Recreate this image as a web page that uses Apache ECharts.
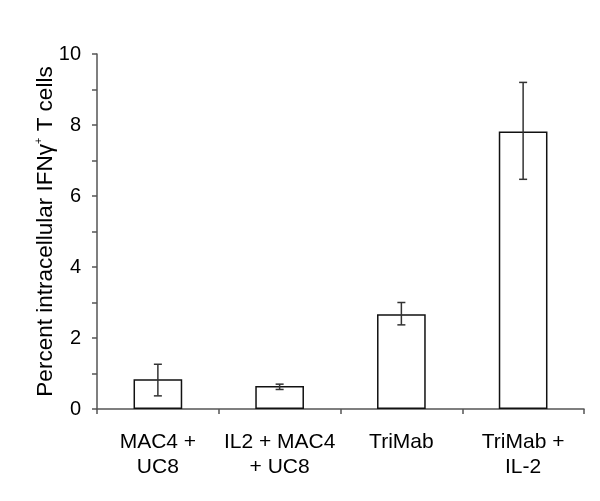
<!DOCTYPE html>
<html><head><meta charset="utf-8">
<script src="https://cdn.jsdelivr.net/npm/echarts@6/dist/echarts.min.js"></script>
<style>html,body{margin:0;padding:0;background:#fff}#c{width:600px;height:501px}</style>
</head><body><div id="c"></div>
<script>
var categories = ['MAC4 +\nUC8', 'IL2 + MAC4\n+ UC8', 'TriMab', 'TriMab +\nIL-2'];
var means = [0.84, 0.65, 2.67, 7.82];
var errLow = [0.37, 0.55, 2.37, 6.47];
var errHigh = [1.26, 0.70, 3.00, 9.20];
var yTicks = [0, 2, 4, 6, 8, 10];

var errData = categories.map(function (c, i) { return [i, errLow[i], errHigh[i]]; });
var font = 'Liberation Sans, Arial, sans-serif';
var chart = echarts.init(document.getElementById('c'));
chart.setOption({
  animation: false,
  grid: { left: 97, right: 16, top: 54, bottom: 92 },
  xAxis: {
    type: 'category', data: categories, boundaryGap: true,
    axisLine: { lineStyle: { color: '#555', width: 1.5 } },
    axisTick: { show: true, length: 5, lineStyle: { color: '#555', width: 1.5 } },
    axisLabel: { color: '#000', fontSize: 21, fontFamily: font, margin: 21, lineHeight: 25, interval: 0 }
  },
  yAxis: {
    type: 'value', min: 0, max: 10, interval: 1,
    splitLine: { show: false },
    axisLine: { show: true, lineStyle: { color: '#555', width: 1.5 } },
    axisTick: { show: true, length: 5, lineStyle: { color: '#555', width: 1.5 } },
    axisLabel: {
      color: '#000', fontSize: 20, fontFamily: font, margin: 16,
      formatter: function (v) { return yTicks.indexOf(v) >= 0 ? String(v) : ''; }
    },
    name: '{a|Percent intracellular IFNγ}{s|+}{a| T cells}',
    nameLocation: 'middle', nameGap: 39, nameRotate: 90, nameMoveOverlap: false,
    nameTextStyle: {
      color: '#000', fontFamily: font,
      rich: {
        a: { fontSize: 22.5, fontFamily: font, color: '#000' },
        s: { fontSize: 11, fontFamily: font, color: '#000', verticalAlign: 'top', padding: [0, 0, 14, 0] }
      }
    }
  },
  series: [
    {
      type: 'bar', data: means, barWidth: '40%',
      itemStyle: { color: '#fff', borderColor: '#111', borderWidth: 1.5 }
    },
    {
      type: 'custom', data: errData, z: 5,
      renderItem: function (params, api) {
        var x = api.value(0);
        var lo = api.coord([x, api.value(1)]);
        var hi = api.coord([x, api.value(2)]);
        var hw = 4;
        var st = { stroke: '#333', lineWidth: 1.5 };
        return { type: 'group', children: [
          { type: 'line', shape: { x1: lo[0], y1: lo[1], x2: hi[0], y2: hi[1] }, style: st },
          { type: 'line', shape: { x1: lo[0] - hw, y1: lo[1], x2: lo[0] + hw, y2: lo[1] }, style: st },
          { type: 'line', shape: { x1: hi[0] - hw, y1: hi[1], x2: hi[0] + hw, y2: hi[1] }, style: st }
        ]};
      }
    }
  ]
});
</script></body></html>
